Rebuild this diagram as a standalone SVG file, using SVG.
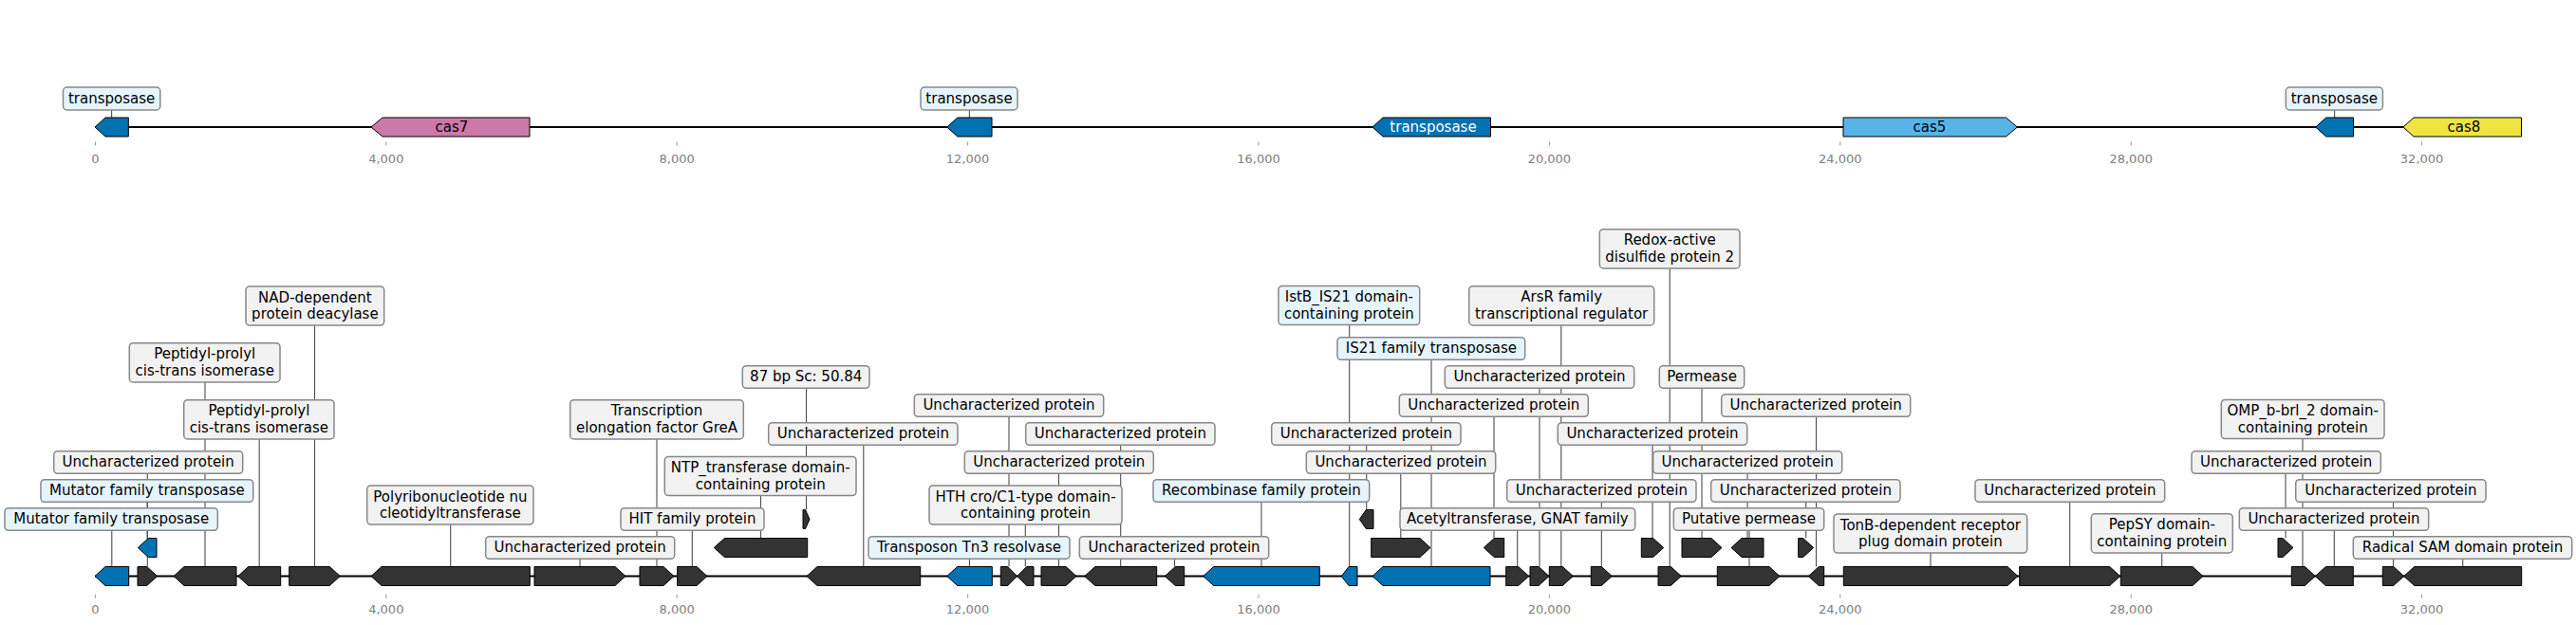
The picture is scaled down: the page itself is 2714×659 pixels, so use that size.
<svg xmlns="http://www.w3.org/2000/svg" width="2714" height="659" viewBox="0 0 2714 659">
<style>
text{font-family:"DejaVu Sans","Liberation Sans",sans-serif;font-size:15px;fill:#000;text-anchor:middle}
.ax{stroke:#000;stroke-width:2;fill:none}
.f{stroke:#000;stroke-width:1}
.dk{fill:#333}
.bl{fill:#0072b2}
.lb rect{fill:#f2f2f2;stroke:#888;stroke-width:1.5}
.tp rect{fill:#e6f5fc}
.conn line{stroke:#4d4d4d;stroke-width:1.1}
.tk line{stroke:#999;stroke-width:1}
.tk text{font-size:13px;fill:#808080}
</style>
<rect width="2714" height="659" fill="#fff"/>
<g id="axes">
<line class="ax" x1="100" y1="134" x2="2656.5" y2="134"/>
<line class="ax" x1="100" y1="607.5" x2="2656.7" y2="607.5"/>
</g>
<g class="tk" id="ticks">
<line x1="100.4" y1="149.5" x2="100.4" y2="153.5"/><line x1="406.8" y1="149.5" x2="406.8" y2="153.5"/><line x1="713.2" y1="149.5" x2="713.2" y2="153.5"/><line x1="1019.6" y1="149.5" x2="1019.6" y2="153.5"/><line x1="1326" y1="149.5" x2="1326" y2="153.5"/><line x1="1632.4" y1="149.5" x2="1632.4" y2="153.5"/><line x1="1938.8" y1="149.5" x2="1938.8" y2="153.5"/><line x1="2245.2" y1="149.5" x2="2245.2" y2="153.5"/><line x1="2551.6" y1="149.5" x2="2551.6" y2="153.5"/>
<text x="100.4" y="171.5">0</text><text x="406.8" y="171.5">4,000</text><text x="713.2" y="171.5">8,000</text><text x="1019.6" y="171.5">12,000</text><text x="1326" y="171.5">16,000</text><text x="1632.4" y="171.5">20,000</text><text x="1938.8" y="171.5">24,000</text><text x="2245.2" y="171.5">28,000</text><text x="2551.6" y="171.5">32,000</text>
<line x1="100.4" y1="626.7" x2="100.4" y2="630.7"/><line x1="406.8" y1="626.7" x2="406.8" y2="630.7"/><line x1="713.2" y1="626.7" x2="713.2" y2="630.7"/><line x1="1019.6" y1="626.7" x2="1019.6" y2="630.7"/><line x1="1326" y1="626.7" x2="1326" y2="630.7"/><line x1="1632.4" y1="626.7" x2="1632.4" y2="630.7"/><line x1="1938.8" y1="626.7" x2="1938.8" y2="630.7"/><line x1="2245.2" y1="626.7" x2="2245.2" y2="630.7"/><line x1="2551.6" y1="626.7" x2="2551.6" y2="630.7"/>
<text x="100.4" y="647.2">0</text><text x="406.8" y="647.2">4,000</text><text x="713.2" y="647.2">8,000</text><text x="1019.6" y="647.2">12,000</text><text x="1326" y="647.2">16,000</text><text x="1632.4" y="647.2">20,000</text><text x="1938.8" y="647.2">24,000</text><text x="2245.2" y="647.2">28,000</text><text x="2551.6" y="647.2">32,000</text>
</g>
<g class="conn" id="connectors">
<line x1="117.6" y1="116" x2="117.6" y2="124"/><line x1="1021.4" y1="116" x2="1021.4" y2="124"/><line x1="2459.6" y1="116" x2="2459.6" y2="124"/>
<line x1="117.8" y1="559.3" x2="117.8" y2="597.5"/>
<line x1="155.2" y1="529.3" x2="155.2" y2="567.5"/>
<line x1="155.3" y1="499.3" x2="155.3" y2="597.5"/>
<line x1="216" y1="402.9" x2="216" y2="597.5"/>
<line x1="273.2" y1="462.9" x2="273.2" y2="597.5"/>
<line x1="331.5" y1="343.1" x2="331.5" y2="597.5"/>
<line x1="474.7" y1="553.1" x2="474.7" y2="597.5"/>
<line x1="611" y1="589.3" x2="611" y2="597.5"/>
<line x1="692" y1="462.9" x2="692" y2="597.5"/>
<line x1="729.3" y1="559.3" x2="729.3" y2="597.5"/>
<line x1="801.5" y1="522.6" x2="801.5" y2="567.5"/>
<line x1="849.5" y1="409.3" x2="849.5" y2="537.5"/>
<line x1="909.8" y1="469.3" x2="909.8" y2="597.5"/>
<line x1="1063" y1="439.3" x2="1063" y2="597.5"/>
<line x1="1180.7" y1="469.3" x2="1180.7" y2="597.5"/>
<line x1="1115.5" y1="499.3" x2="1115.5" y2="597.5"/>
<line x1="1080.3" y1="553.1" x2="1080.3" y2="597.5"/>
<line x1="1021.5" y1="589.3" x2="1021.5" y2="597.5"/>
<line x1="1237.5" y1="589.3" x2="1237.5" y2="597.5"/>
<line x1="1329" y1="529.3" x2="1329" y2="597.5"/>
<line x1="1421.7" y1="342.6" x2="1421.7" y2="597.5"/>
<line x1="1508" y1="379.3" x2="1508" y2="597.5"/>
<line x1="1439.7" y1="469.3" x2="1439.7" y2="537.5"/>
<line x1="1475.8" y1="499.3" x2="1475.8" y2="567.5"/>
<line x1="1574" y1="439.3" x2="1574" y2="567.5"/>
<line x1="1622" y1="409.3" x2="1622" y2="597.5"/>
<line x1="1644.8" y1="342.9" x2="1644.8" y2="597.5"/>
<line x1="1741" y1="469.3" x2="1741" y2="567.5"/>
<line x1="1687.3" y1="529.3" x2="1687.3" y2="597.5"/>
<line x1="1598.7" y1="559.3" x2="1598.7" y2="597.5"/>
<line x1="1759.2" y1="282.9" x2="1759.2" y2="597.5"/>
<line x1="1793" y1="409.3" x2="1793" y2="567.5"/>
<line x1="1913.5" y1="439.3" x2="1913.5" y2="597.5"/>
<line x1="1841" y1="499.3" x2="1841" y2="567.5"/>
<line x1="1843" y1="559.3" x2="1843" y2="597.5"/>
<line x1="1902.7" y1="529.3" x2="1902.7" y2="567.5"/>
<line x1="2034" y1="583.1" x2="2034" y2="597.5"/>
<line x1="2180.7" y1="529.3" x2="2180.7" y2="597.5"/>
<line x1="2277.7" y1="582.9" x2="2277.7" y2="597.5"/>
<line x1="2426" y1="462.6" x2="2426" y2="597.5"/>
<line x1="2408" y1="499.3" x2="2408" y2="567.5"/>
<line x1="2521.5" y1="529.3" x2="2521.5" y2="597.5"/>
<line x1="2459.3" y1="559.3" x2="2459.3" y2="597.5"/>
<line x1="2594.7" y1="589.3" x2="2594.7" y2="597.5"/>
</g>
<!-- top track -->
<g id="t1"><polygon class="f bl" points="135.3,124 111,124 100,134 111,144 135.3,144"/><g class="lb tp"><rect x="66.5" y="92" width="102.3" height="24" rx="4"/><text x="117.6" y="108.5">transposase</text></g></g>
<g id="t2"><polygon class="f" fill="#cc79a7" points="558,124 403,124 391,134 403,144 558,144"/><text x="476" y="139.3">cas7</text></g>
<g id="t3"><polygon class="f bl" points="1045,124 1008.8,124 997.8,134 1008.8,144 1045,144"/><g class="lb tp"><rect x="970" y="92" width="102" height="24" rx="4"/><text x="1021" y="108.5">transposase</text></g></g>
<g id="t4"><polygon class="f bl" points="1570.5,124 1457,124 1446,134 1457,144 1570.5,144"/><text x="1510" y="139.3" style="fill:#fff">transposase</text></g>
<g id="t5"><polygon class="f" fill="#56b4e9" points="1942,124 2113.5,124 2125.4,134 2113.5,144 1942,144"/><text x="2033" y="139.3">cas5</text></g>
<g id="t6"><polygon class="f bl" points="2479.5,124 2450.7,124 2439.7,134 2450.7,144 2479.5,144"/><g class="lb tp"><rect x="2408.3" y="92" width="102.1" height="24" rx="4"/><text x="2459.4" y="108.5">transposase</text></g></g>
<g id="t7"><polygon class="f" fill="#f0e442" points="2656.5,124 2543,124 2532,134 2543,144 2656.5,144"/><text x="2596" y="139.3">cas8</text></g>
<!-- bottom track -->
<g id="f1"><polygon class="f bl" points="135.7,597.5 111,597.5 100,607.5 111,617.5 135.7,617.5"/><g class="lb tp"><rect x="5" y="535.7" width="224.3" height="23.6" rx="4"/><text x="117.2" y="551.8">Mutator family transposase</text></g></g>
<g id="g1"><polygon class="f bl" points="165,567.5 156.3,567.5 145.3,577.5 156.3,587.5 165,587.5"/><g class="lb tp"><rect x="43" y="505.7" width="223.7" height="23.6" rx="4"/><text x="154.9" y="521.8">Mutator family transposase</text></g></g>
<g id="f2"><polygon class="f dk" points="145,597.5 154.7,597.5 165.7,607.5 154.7,617.5 145,617.5"/><g class="lb"><rect x="56.7" y="475.7" width="199" height="23.6" rx="4"/><text x="156.2" y="491.8">Uncharacterized protein</text></g></g>
<g id="f3"><polygon class="f dk" points="249,597.5 194,597.5 183,607.5 194,617.5 249,617.5"/><g class="lb"><rect x="136.3" y="361.7" width="158.7" height="41.2" rx="4"/><text x="215.7" y="378.3">Peptidyl-prolyl</text><text x="215.7" y="395.8">cis-trans isomerase</text></g></g>
<g id="f4"><polygon class="f dk" points="295.7,597.5 261.7,597.5 250.7,607.5 261.7,617.5 295.7,617.5"/><g class="lb"><rect x="193.7" y="421.7" width="158.3" height="41.2" rx="4"/><text x="272.9" y="438.3">Peptidyl-prolyl</text><text x="272.9" y="455.8">cis-trans isomerase</text></g></g>
<g id="f5"><polygon class="f dk" points="304.7,597.5 347.3,597.5 358.3,607.5 347.3,617.5 304.7,617.5"/><g class="lb"><rect x="259" y="301.9" width="145.7" height="41.2" rx="4"/><text x="331.9" y="318.5">NAD-dependent</text><text x="331.9" y="336">protein deacylase</text></g></g>
<g id="f6"><polygon class="f dk" points="558.3,597.5 402,597.5 391,607.5 402,617.5 558.3,617.5"/><g class="lb"><rect x="386.7" y="511.9" width="175.3" height="41.2" rx="4"/><text x="474.4" y="528.5">Polyribonucleotide nu</text><text x="474.4" y="546">cleotidyltransferase</text></g></g>
<g id="f7"><polygon class="f dk" points="563,597.5 648,597.5 659,607.5 648,617.5 563,617.5"/><g class="lb"><rect x="511.7" y="565.7" width="199" height="23.6" rx="4"/><text x="611.2" y="581.8">Uncharacterized protein</text></g></g>
<g id="f8"><polygon class="f dk" points="674,597.5 699,597.5 710,607.5 699,617.5 674,617.5"/><g class="lb"><rect x="600.7" y="421.7" width="182.6" height="41.2" rx="4"/><text x="692" y="438.3">Transcription</text><text x="692" y="455.8">elongation factor GreA</text></g></g>
<g id="f9"><polygon class="f dk" points="713.7,597.5 734,597.5 745,607.5 734,617.5 713.7,617.5"/><g class="lb"><rect x="654" y="535.7" width="151" height="23.6" rx="4"/><text x="729.5" y="551.8">HIT family protein</text></g></g>
<g id="g2"><polygon class="f dk" points="850.7,567.5 763.3,567.5 752.3,577.5 763.3,587.5 850.7,587.5"/><g class="lb"><rect x="700.3" y="481.4" width="201.7" height="41.2" rx="4"/><text x="801.2" y="498">NTP_transferase domain-</text><text x="801.2" y="515.5">containing protein</text></g></g>
<g id="h1"><polygon class="f dk" points="846,537.5 848.5,537.5 853,547.5 848.5,557.5 846,557.5"/><g class="lb"><rect x="782.3" y="385.7" width="133.7" height="23.6" rx="4"/><text x="849.2" y="401.8">87 bp Sc: 50.84</text></g></g>
<g id="f10"><polygon class="f dk" points="969.7,597.5 861,597.5 850,607.5 861,617.5 969.7,617.5"/><g class="lb"><rect x="809.7" y="445.7" width="199.3" height="23.6" rx="4"/><text x="909.4" y="461.8">Uncharacterized protein</text></g></g>
<g id="f11"><polygon class="f bl" points="1045.3,597.5 1008.7,597.5 997.7,607.5 1008.7,617.5 1045.3,617.5"/><g class="lb tp"><rect x="915" y="565.7" width="212" height="23.6" rx="4"/><text x="1021" y="581.8">Transposon Tn3 resolvase</text></g></g>
<g id="f12"><polygon class="f dk" points="1054.3,597.5 1061.7,597.5 1071.7,607.5 1061.7,617.5 1054.3,617.5"/><g class="lb"><rect x="963.3" y="415.7" width="199.4" height="23.6" rx="4"/><text x="1063" y="431.8">Uncharacterized protein</text></g></g>
<g id="f13"><polygon class="f dk" points="1089,597.5 1081.7,597.5 1071.7,607.5 1081.7,617.5 1089,617.5"/><g class="lb"><rect x="979" y="511.9" width="203" height="41.2" rx="4"/><text x="1080.5" y="528.5">HTH cro/C1-type domain-</text><text x="1080.5" y="546">containing protein</text></g></g>
<g id="f14"><polygon class="f dk" points="1097,597.5 1123,597.5 1134,607.5 1123,617.5 1097,617.5"/><g class="lb"><rect x="1016.3" y="475.7" width="199" height="23.6" rx="4"/><text x="1115.8" y="491.8">Uncharacterized protein</text></g></g>
<g id="f15"><polygon class="f dk" points="1218.7,597.5 1153.7,597.5 1142.7,607.5 1153.7,617.5 1218.7,617.5"/><g class="lb"><rect x="1080.7" y="445.7" width="199.3" height="23.6" rx="4"/><text x="1180.4" y="461.8">Uncharacterized protein</text></g></g>
<g id="f16"><polygon class="f dk" points="1247.7,597.5 1238.3,597.5 1227.3,607.5 1238.3,617.5 1247.7,617.5"/><g class="lb"><rect x="1137.3" y="565.7" width="199.4" height="23.6" rx="4"/><text x="1237" y="581.8">Uncharacterized protein</text></g></g>
<g id="f17"><polygon class="f bl" points="1390.3,597.5 1278.7,597.5 1267.7,607.5 1278.7,617.5 1390.3,617.5"/><g class="lb tp"><rect x="1215" y="505.7" width="227.7" height="23.6" rx="4"/><text x="1328.9" y="521.8">Recombinase family protein</text></g></g>
<g id="f18"><polygon class="f bl" points="1430,597.5 1421,597.5 1413.3,607.5 1421,617.5 1430,617.5"/><g class="lb tp"><rect x="1347" y="301.4" width="148.7" height="41.2" rx="4"/><text x="1421.4" y="318">IstB_IS21 domain-</text><text x="1421.4" y="335.5">containing protein</text></g></g>
<g id="f19"><polygon class="f bl" points="1570,597.5 1457,597.5 1446,607.5 1457,617.5 1570,617.5"/><g class="lb tp"><rect x="1409" y="355.7" width="197.7" height="23.6" rx="4"/><text x="1507.9" y="371.8">IS21 family transposase</text></g></g>
<g id="h2"><polygon class="f dk" points="1447,537.5 1439.3,537.5 1432.3,547.5 1439.3,557.5 1447,557.5"/><g class="lb"><rect x="1339.7" y="445.7" width="199.3" height="23.6" rx="4"/><text x="1439.4" y="461.8">Uncharacterized protein</text></g></g>
<g id="g3"><polygon class="f dk" points="1444.7,567.5 1496,567.5 1507,577.5 1496,587.5 1444.7,587.5"/><g class="lb"><rect x="1376.3" y="475.7" width="199.4" height="23.6" rx="4"/><text x="1476" y="491.8">Uncharacterized protein</text></g></g>
<g id="g4"><polygon class="f dk" points="1584.7,567.5 1574.3,567.5 1563.3,577.5 1574.3,587.5 1584.7,587.5"/><g class="lb"><rect x="1474.3" y="415.7" width="199" height="23.6" rx="4"/><text x="1573.8" y="431.8">Uncharacterized protein</text></g></g>
<g id="f20"><polygon class="f dk" points="1586.7,597.5 1599.7,597.5 1610.7,607.5 1599.7,617.5 1586.7,617.5"/><g class="lb"><rect x="1475" y="535.7" width="247.7" height="23.6" rx="4"/><text x="1598.9" y="551.8">Acetyltransferase, GNAT family</text></g></g>
<g id="f21"><polygon class="f dk" points="1612,597.5 1621,597.5 1632,607.5 1621,617.5 1612,617.5"/><g class="lb"><rect x="1522.3" y="385.7" width="199.4" height="23.6" rx="4"/><text x="1622" y="401.8">Uncharacterized protein</text></g></g>
<g id="f22"><polygon class="f dk" points="1632.3,597.5 1646.3,597.5 1657.3,607.5 1646.3,617.5 1632.3,617.5"/><g class="lb"><rect x="1547.7" y="301.7" width="195" height="41.2" rx="4"/><text x="1645.2" y="318.3">ArsR family</text><text x="1645.2" y="335.8">transcriptional regulator</text></g></g>
<g id="g5"><polygon class="f dk" points="1729.3,567.5 1741.7,567.5 1752.7,577.5 1741.7,587.5 1729.3,587.5"/><g class="lb"><rect x="1641.3" y="445.7" width="199.4" height="23.6" rx="4"/><text x="1741" y="461.8">Uncharacterized protein</text></g></g>
<g id="f23"><polygon class="f dk" points="1676.3,597.5 1687.3,597.5 1698.3,607.5 1687.3,617.5 1676.3,617.5"/><g class="lb"><rect x="1587.7" y="505.7" width="199.3" height="23.6" rx="4"/><text x="1687.4" y="521.8">Uncharacterized protein</text></g></g>
<g id="f24"><polygon class="f dk" points="1747,597.5 1760.3,597.5 1771.3,607.5 1760.3,617.5 1747,617.5"/><g class="lb"><rect x="1685.3" y="241.7" width="147.7" height="41.2" rx="4"/><text x="1759.2" y="258.3">Redox-active</text><text x="1759.2" y="275.8">disulfide protein 2</text></g></g>
<g id="g6"><polygon class="f dk" points="1772,567.5 1803,567.5 1814,577.5 1803,587.5 1772,587.5"/><g class="lb"><rect x="1748.3" y="385.7" width="89.4" height="23.6" rx="4"/><text x="1793" y="401.8">Permease</text></g></g>
<g id="f26"><polygon class="f dk" points="1921.7,597.5 1916.3,597.5 1905.3,607.5 1916.3,617.5 1921.7,617.5"/><g class="lb"><rect x="1813.7" y="415.7" width="199" height="23.6" rx="4"/><text x="1913.2" y="431.8">Uncharacterized protein</text></g></g>
<g id="g7"><polygon class="f dk" points="1858,567.5 1835,567.5 1824,577.5 1835,587.5 1858,587.5"/><g class="lb"><rect x="1741.7" y="475.7" width="199" height="23.6" rx="4"/><text x="1841.2" y="491.8">Uncharacterized protein</text></g></g>
<g id="f25"><polygon class="f dk" points="1809.3,597.5 1864,597.5 1875,607.5 1864,617.5 1809.3,617.5"/><g class="lb"><rect x="1763.3" y="535.7" width="158.4" height="23.6" rx="4"/><text x="1842.5" y="551.8">Putative permease</text></g></g>
<g id="g8"><polygon class="f dk" points="1894.7,567.5 1899.7,567.5 1910.7,577.5 1899.7,587.5 1894.7,587.5"/><g class="lb"><rect x="1802.7" y="505.7" width="199.3" height="23.6" rx="4"/><text x="1902.4" y="521.8">Uncharacterized protein</text></g></g>
<g id="f27"><polygon class="f dk" points="1942.3,597.5 2115,597.5 2126,607.5 2115,617.5 1942.3,617.5"/><g class="lb"><rect x="1932" y="541.9" width="203.7" height="41.2" rx="4"/><text x="2033.9" y="558.5">TonB-dependent receptor</text><text x="2033.9" y="576">plug domain protein</text></g></g>
<g id="f28"><polygon class="f dk" points="2127.7,597.5 2222.7,597.5 2233.7,607.5 2222.7,617.5 2127.7,617.5"/><g class="lb"><rect x="2081" y="505.7" width="199.7" height="23.6" rx="4"/><text x="2180.9" y="521.8">Uncharacterized protein</text></g></g>
<g id="f29"><polygon class="f dk" points="2234.3,597.5 2310,597.5 2321,607.5 2310,617.5 2234.3,617.5"/><g class="lb"><rect x="2203.3" y="541.7" width="149" height="41.2" rx="4"/><text x="2277.8" y="558.3">PepSY domain-</text><text x="2277.8" y="575.8">containing protein</text></g></g>
<g id="g9"><polygon class="f dk" points="2400,567.5 2405,567.5 2416,577.5 2405,587.5 2400,587.5"/><g class="lb"><rect x="2309" y="475.7" width="199.3" height="23.6" rx="4"/><text x="2408.7" y="491.8">Uncharacterized protein</text></g></g>
<g id="f30"><polygon class="f dk" points="2414.3,597.5 2428.3,597.5 2439.3,607.5 2428.3,617.5 2414.3,617.5"/><g class="lb"><rect x="2340.3" y="421.4" width="171.7" height="41.2" rx="4"/><text x="2426.2" y="438">OMP_b-brl_2 domain-</text><text x="2426.2" y="455.5">containing protein</text></g></g>
<g id="f31"><polygon class="f dk" points="2479.3,597.5 2450.3,597.5 2439.3,607.5 2450.3,617.5 2479.3,617.5"/><g class="lb"><rect x="2359.3" y="535.7" width="199.4" height="23.6" rx="4"/><text x="2459" y="551.8">Uncharacterized protein</text></g></g>
<g id="f32"><polygon class="f dk" points="2510.3,597.5 2521.7,597.5 2532.7,607.5 2521.7,617.5 2510.3,617.5"/><g class="lb"><rect x="2418.7" y="505.7" width="200.3" height="23.6" rx="4"/><text x="2518.9" y="521.8">Uncharacterized protein</text></g></g>
<g id="f33"><polygon class="f dk" points="2656.7,597.5 2543.7,597.5 2532.7,607.5 2543.7,617.5 2656.7,617.5"/><g class="lb"><rect x="2479.3" y="565.7" width="230.4" height="23.6" rx="4"/><text x="2594.5" y="581.8">Radical SAM domain protein</text></g></g>
</svg>
